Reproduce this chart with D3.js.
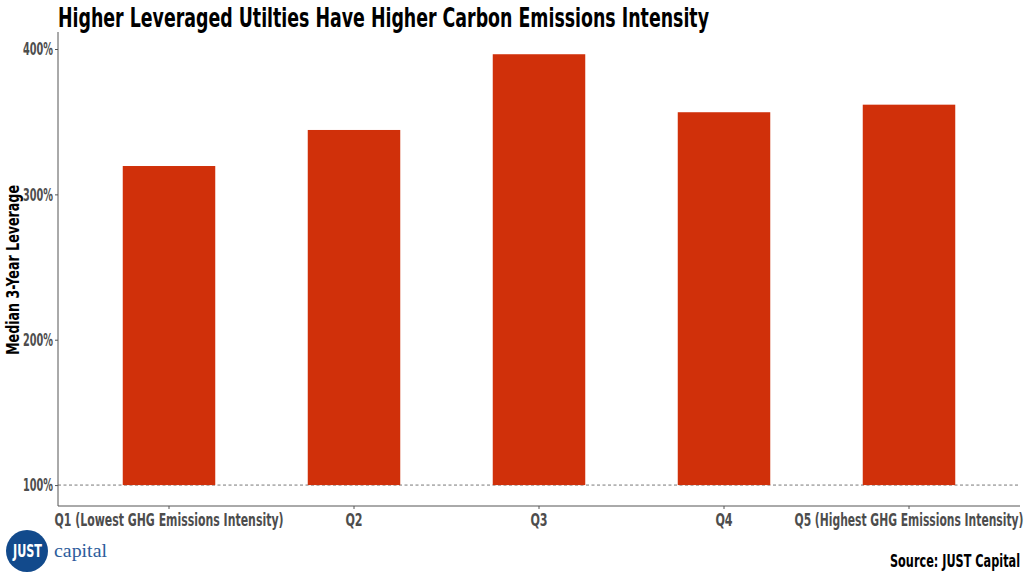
<!DOCTYPE html>
<html><head><meta charset="utf-8">
<script src="https://cdn.jsdelivr.net/npm/d3@7"></script>
<style>
body{margin:0;background:#fff;}
svg{display:block;}
.cond{font-family:"DejaVu Sans Condensed","Liberation Sans Narrow","Roboto",sans-serif;font-stretch:condensed;font-weight:bold;}
</style></head>
<body><svg id="c" width="1024" height="576"></svg>
<script>
const categories = ["Q1 (Lowest GHG Emissions Intensity)","Q2","Q3","Q4","Q5 (Highest GHG Emissions Intensity)"];
const leverage = [319.5, 344.3, 396.4, 356.5, 361.7];
const yTicks = [100, 200, 300, 400];
const baseline = 100;
const title = "Higher Leveraged Utilties Have Higher Carbon Emissions Intensity";
const yTitle = "Median 3-Year Leverage";
const source = "Source: JUST Capital";

const svg = d3.select("#c");
const mLeft = 58, mRight = 1020, mTop = 32, mBottom = 506;

const x = d3.scaleBand().domain(categories).range([mLeft, mRight]).paddingInner(0.5).paddingOuter(0.35);
const y = d3.scaleLinear().domain([85.6, 411.7]).range([mBottom, mTop]);

// title
svg.append("text").attr("class","cond").attr("x",58).attr("y",27)
  .attr("font-size",27).attr("fill","#000")
  .attr("textLength",651).attr("lengthAdjust","spacingAndGlyphs").text(title);

// dashed baseline
svg.append("line").attr("x1",mLeft).attr("x2",mRight)
  .attr("y1",y(baseline)).attr("y2",y(baseline))
  .attr("stroke","#555").attr("stroke-width",0.8).attr("stroke-dasharray","3,2.5");

// bars
svg.selectAll("rect.bar").data(leverage).join("rect").attr("class","bar")
  .attr("x",(d,i)=>x(categories[i])).attr("width",x.bandwidth())
  .attr("y",d=>y(d)).attr("height",d=>y(baseline)-y(d))
  .attr("fill","#d0300a");

// y axis
const ya = svg.append("g").attr("transform",`translate(${mLeft},0)`)
  .call(d3.axisLeft(y).tickValues(yTicks).tickSize(3).tickPadding(2).tickFormat(d=>d+"%"));
ya.select(".domain").attr("stroke","#555").attr("d",`M-0,${mTop}V${mBottom}`);
ya.selectAll(".tick line").attr("stroke","#555");
ya.selectAll(".tick text").attr("class","cond").attr("font-size",18).attr("fill","#4d4d4d")
  .attr("textLength",30).attr("lengthAdjust","spacingAndGlyphs");

// x axis
const xa = svg.append("g").attr("transform",`translate(0,${mBottom})`)
  .call(d3.axisBottom(x).tickSize(3).tickPadding(4));
xa.select(".domain").attr("stroke","#555").attr("d",`M${mLeft},0H${mRight}`);
xa.selectAll(".tick line").attr("stroke","#555");
xa.selectAll(".tick text").attr("class","cond").attr("font-size",18).attr("fill","#4d4d4d")
  .attr("textLength",d=>d.length>5?229:(d.length*8.6))
  .attr("lengthAdjust","spacingAndGlyphs");

// y title
svg.append("text").attr("class","cond")
  .attr("transform","translate(19,270) rotate(-90)")
  .attr("text-anchor","middle").attr("font-size",18).attr("fill","#000")
  .attr("textLength",170).attr("lengthAdjust","spacingAndGlyphs").text(yTitle);

// source
svg.append("text").attr("class","cond").attr("x",1020).attr("y",567)
  .attr("text-anchor","end").attr("font-size",18).attr("fill","#000")
  .attr("textLength",130).attr("lengthAdjust","spacingAndGlyphs").text(source);

// logo
const logo = svg.append("g");
logo.append("circle").attr("cx",27).attr("cy",551).attr("r",21).attr("fill","#124a8c");
logo.append("text").attr("class","cond").attr("x",27.5).attr("y",557).attr("text-anchor","middle")
  .attr("font-size",17).attr("fill","#fff").attr("textLength",29).attr("lengthAdjust","spacingAndGlyphs").text("JUST");
logo.append("text").attr("x",54).attr("y",557)
  .attr("font-family","'Liberation Serif','DejaVu Serif',serif").attr("font-size",18).attr("fill","#2c5c9c")
  .attr("textLength",53).attr("lengthAdjust","spacingAndGlyphs").text("capital");
</script></body></html>
